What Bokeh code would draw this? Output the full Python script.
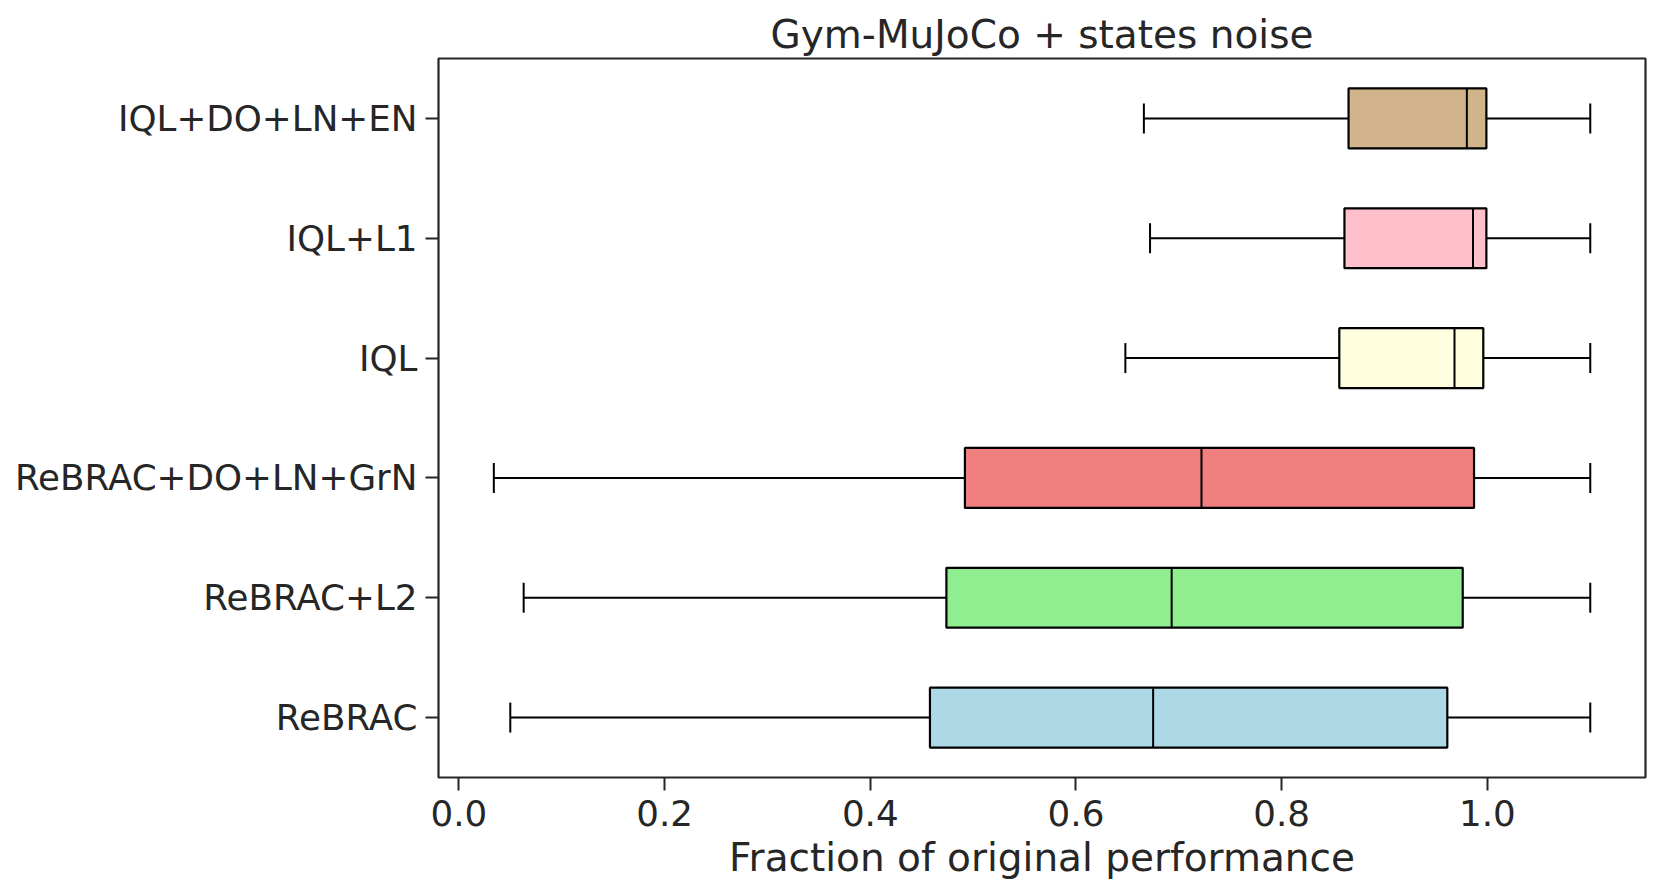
from bokeh.plotting import figure
from bokeh.models import Range1d, FixedTicker, ColumnDataSource, Title
from bokeh.embed import file_html
from bokeh.resources import INLINE

# Data (top to bottom as shown)
methods = ["IQL+DO+LN+EN", "IQL+L1", "IQL", "ReBRAC+DO+LN+GrN", "ReBRAC+L2", "ReBRAC"]
whisker_low = [0.666, 0.672, 0.648, 0.034, 0.063, 0.050]
q1 = [0.865, 0.861, 0.856, 0.492, 0.474, 0.458]
median = [0.980, 0.986, 0.968, 0.722, 0.693, 0.675]
q3 = [0.999, 0.999, 0.996, 0.987, 0.976, 0.961]
whisker_high = [1.100, 1.100, 1.100, 1.100, 1.100, 1.100]
colors = ["#D2B48C", "#FFC0CB", "#FFFFE0", "#F08080", "#90EE90", "#ADD8E6"]

x_ticks = [0.0, 0.2, 0.4, 0.6, 0.8, 1.0]
title_text = "Gym-MuJoCo + states noise"
x_label = "Fraction of original performance"

n = len(methods)
pos = [n - 1 - i for i in range(n)]
box_h = 0.5
cap_h = 0.25

src = ColumnDataSource(dict(
    y=pos, lo=whisker_low, q1=q1, med=median, q3=q3, hi=whisker_high, color=colors,
    ybot=[p - box_h / 2 for p in pos], ytop=[p + box_h / 2 for p in pos],
    cbot=[p - cap_h / 2 for p in pos], ctop=[p + cap_h / 2 for p in pos],
))

FONT = "DejaVu Sans"
TXT = "#262626"

p = figure(
    frame_width=1207, frame_height=719,
    x_range=Range1d(-0.0198, 1.1537), y_range=Range1d(-0.5, n - 0.5),
    output_backend="svg", toolbar_location=None,
    min_border_left=438, min_border_right=8, min_border_top=58, min_border_bottom=100,
)
p.title = Title(text=title_text, align="center", text_font=FONT, text_font_size="39px",
                text_color=TXT, text_font_style="normal", standoff=4)

p.grid.visible = False
p.outline_line_color = TXT
p.outline_line_width = 2.2
p.background_fill_color = "white"
p.border_fill_color = "white"

# whiskers
p.segment(x0="lo", y0="y", x1="q1", y1="y", source=src, line_color="black", line_width=2)
p.segment(x0="q3", y0="y", x1="hi", y1="y", source=src, line_color="black", line_width=2)
# caps
p.segment(x0="lo", y0="cbot", x1="lo", y1="ctop", source=src, line_color="black", line_width=2)
p.segment(x0="hi", y0="cbot", x1="hi", y1="ctop", source=src, line_color="black", line_width=2)
# boxes
p.quad(left="q1", right="q3", bottom="ybot", top="ytop", source=src,
       fill_color="color", line_color="black", line_width=2.2)
# medians
p.segment(x0="med", y0="ybot", x1="med", y1="ytop", source=src, line_color="black", line_width=2)

for ax in (p.xaxis[0], p.yaxis[0]):
    ax.axis_line_color = None
    ax.major_tick_line_color = TXT
    ax.major_tick_line_width = 2
    ax.major_tick_out = 13
    ax.major_tick_in = 0
    ax.minor_tick_line_color = None
    ax.major_label_text_font = FONT
    ax.major_label_text_font_size = "35.7px"
    ax.major_label_text_color = TXT

p.xaxis.ticker = FixedTicker(ticks=x_ticks)
p.xaxis.major_label_overrides = {t: f"{t:.1f}" for t in x_ticks}
p.xaxis.major_label_standoff = 9
p.xaxis.axis_label = x_label
p.xaxis.axis_label_text_font = FONT
p.xaxis.axis_label_text_font_size = "39px"
p.xaxis.axis_label_text_font_style = "normal"
p.xaxis.axis_label_text_color = TXT
p.xaxis.axis_label_standoff = 6

p.yaxis.ticker = FixedTicker(ticks=pos)
p.yaxis.major_label_overrides = {pp: m for pp, m in zip(pos, methods)}
p.yaxis.major_label_standoff = 8

open("out.html", "w").write(file_html(p, INLINE))
